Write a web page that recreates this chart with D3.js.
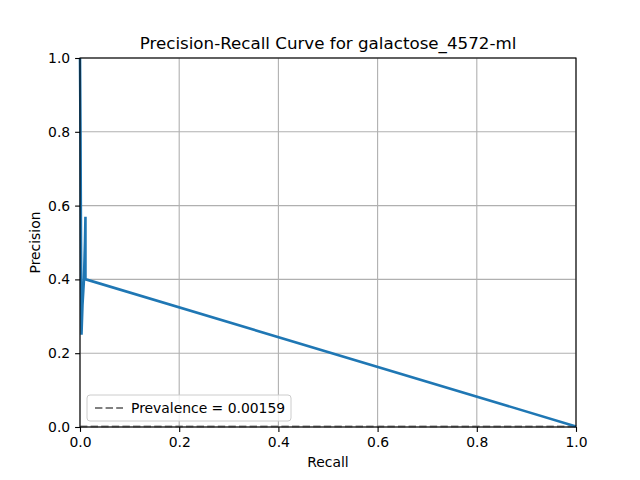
<!DOCTYPE html>
<html><head><meta charset="utf-8">
<script src="https://cdn.jsdelivr.net/npm/d3@7"></script>
<style>body{margin:0;background:#fff}</style></head>
<body><div id="chart"></div>
<script>
const recall = [0, 0.001, 0.002, 0.003, 0.005, 0.008, 0.010, 0.011, 0.011, 0.012, 1.0];
const precision = [1.0, 0.8, 0.5, 0.25, 0.33, 0.40, 0.50, 0.57, 0.40, 0.40, 0.0016];
const prevalence = 0.00159;
const ticks = [0, 0.2, 0.4, 0.6, 0.8, 1.0];

const width = 640, height = 480;
const m = { top: 58, right: 64, bottom: 53, left: 80 };
const svg = d3.select("#chart").append("svg").attr("width", width).attr("height", height)
  .style("font-family", "DejaVu Sans");

const x = d3.scaleLinear().domain([0, 1]).range([m.left, width - m.right]);
const y = d3.scaleLinear().domain([0, 1]).range([height - m.bottom, m.top]);

// grid
svg.append("g").selectAll("line").data(ticks).join("line")
  .attr("x1", d => x(d)).attr("x2", d => x(d)).attr("y1", y(0)).attr("y2", y(1))
  .attr("stroke", "#b0b0b0").attr("stroke-width", 1.1);
svg.append("g").selectAll("line").data(ticks).join("line")
  .attr("y1", d => y(d)).attr("y2", d => y(d)).attr("x1", x(0)).attr("x2", x(1))
  .attr("stroke", "#b0b0b0").attr("stroke-width", 1.1);

// prevalence line
svg.append("line").attr("x1", x(0)).attr("x2", x(1)).attr("y1", y(prevalence)).attr("y2", y(prevalence))
  .attr("stroke", "#808080").attr("stroke-width", 2).attr("stroke-dasharray", "7.4,3.2");

svg.append("path").datum(recall.map((r, i) => [r, precision[i]]))
  .attr("d", d3.line().x(d => x(d[0])).y(d => y(d[1])))
  .attr("fill", "none").attr("stroke", "#1f77b4").attr("stroke-width", 2.6);

const fmt = d3.format(".1f");
const xa = svg.append("g").attr("transform", `translate(0,${y(0)})`)
  .call(d3.axisBottom(x).tickValues(ticks).tickFormat(fmt).tickSize(4.9).tickPadding(4.9));
const ya = svg.append("g").attr("transform", `translate(${x(0)},0)`)
  .call(d3.axisLeft(y).tickValues(ticks).tickFormat(fmt).tickSize(4.9).tickPadding(4.9));
[xa, ya].forEach(a => {
  a.selectAll("text").attr("font-size", 13.9).attr("fill", "#000").style("font-family", "DejaVu Sans");
  a.selectAll("line").attr("stroke-width", 1.1);
  a.select(".domain").remove();
});

svg.append("rect").attr("x", x(0)).attr("y", y(1)).attr("width", x(1) - x(0)).attr("height", y(0) - y(1))
  .attr("fill", "none").attr("stroke", "#000").attr("stroke-width", 1.1);

svg.append("text").attr("x", (x(0) + x(1)) / 2).attr("y", 49).attr("text-anchor", "middle")
  .attr("font-size", 16.7).text("Precision-Recall Curve for galactose_4572-ml");
svg.append("text").attr("x", (x(0) + x(1)) / 2).attr("y", 467).attr("text-anchor", "middle")
  .attr("font-size", 13.9).text("Recall");
svg.append("text").attr("transform", `translate(40,${(y(0) + y(1)) / 2}) rotate(-90)`).attr("text-anchor", "middle")
  .attr("font-size", 13.9).text("Precision");

// legend
const lg = svg.append("g").attr("transform", "translate(87,395)");
lg.append("rect").attr("width", 204).attr("height", 26).attr("rx", 3)
  .attr("fill", "#fff").attr("fill-opacity", 0.8).attr("stroke", "#ccc");
lg.append("line").attr("x1", 8).attr("x2", 36).attr("y1", 13).attr("y2", 13)
  .attr("stroke", "#808080").attr("stroke-width", 2).attr("stroke-dasharray", "7.4,3.2");
lg.append("text").attr("x", 44).attr("y", 18).attr("font-size", 13.9).text("Prevalence = 0.00159");
</script></body></html>
